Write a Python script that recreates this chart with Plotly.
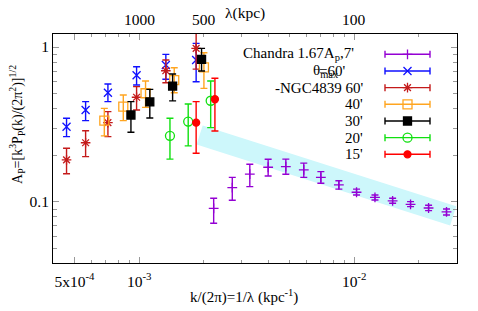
import numpy as np
import plotly.graph_objects as go

# ---------------- data ----------------
chandra_k = [2.22e-3, 2.71e-3, 3.27e-3, 3.98e-3, 4.81e-3, 5.83e-3, 7.0e-3, 8.49e-3,
             1.026e-2, 1.25e-2, 1.51e-2, 1.83e-2, 2.22e-2, 2.69e-2]
chandra_A = [0.091, 0.1236, 0.151, 0.1675, 0.169, 0.161, 0.144, 0.129,
             0.1155, 0.107, 0.1015, 0.0966, 0.0914, 0.0862]
chandra_hi = [0.1057, 0.144, 0.175, 0.1885, 0.189, 0.178, 0.157, 0.137,
              0.121, 0.111, 0.1057, 0.1005, 0.0952, 0.0901]
chandra_lo = [0.0729, 0.1026, 0.1256, 0.147, 0.151, 0.144, 0.132, 0.121,
              0.111, 0.103, 0.098, 0.0933, 0.0879, 0.0824]

t60_k = [4.59e-4, 5.63e-4, 7.15e-4, 9.72e-4, 1.33e-3, 1.84e-3]
t60_A = [0.306, 0.392, 0.507, 0.657, 0.765, 0.824]
t60_hi = [0.347, 0.444, 0.577, 0.746, 0.897, 1.056]
t60_lo = [0.264, 0.335, 0.444, 0.569, 0.619, 0.597]

ngc_k = [4.59e-4, 5.63e-4, 7.15e-4, 9.72e-4, 1.33e-3, 1.84e-3]
ngc_A = [0.187, 0.241, 0.325, 0.474, 0.703, 0.98]
ngc_hi = [0.222, 0.288, 0.383, 0.555, 0.824, 1.35]
ngc_lo = [0.152, 0.196, 0.264, 0.392, 0.588, 0.72]

t40_k = [6.88e-4, 8.43e-4, 1.07e-3, 1.455e-3, 2.0e-3]
t40_A = [0.335, 0.412, 0.503, 0.612, 0.74]
t40_hi = [0.402, 0.49, 0.604, 0.735, 0.919]
t40_lo = [0.267, 0.335, 0.408, 0.507, 0.541]

t30_k = [9.15e-4, 1.12e-3, 1.43e-3, 1.95e-3]
t30_A = [0.364, 0.442, 0.560, 0.833]
t30_hi = [0.444, 0.533, 0.67, 0.98]
t30_lo = [0.282, 0.348, 0.449, 0.70]

t20_k = [1.39e-3, 1.69e-3, 2.15e-3]
t20_A = [0.267, 0.33, 0.45]
t20_hi = [0.347, 0.429, 0.603]
t20_lo = [0.189, 0.23, 0.302]

t15_k = [1.84e-3, 2.25e-3]
t15_A = [0.325, 0.46]
t15_hi = [0.444, 0.628]
t15_lo = [0.206, 0.287]

band_k = [1.91e-3, 2.89e-2]
band_A = [0.2705, 0.0813]

xtick_vals = [5e-4, 1e-3, 1e-2]
xtick_text = ["5x10<sup>-4</sup>", "10<sup>-3</sup>", "10<sup>-2</sup>"]
ytick_vals = [0.1, 1]
ytick_text = ["0.1", "1"]
lambda_ticks = [1000, 500, 100]

x_minor = [4e-4, 6e-4, 7e-4, 8e-4, 9e-4] + [m * 1e-3 for m in range(2, 10)] + [2e-2, 3e-2]
y_minor = [0.05, 0.06, 0.07, 0.08, 0.09] + [m / 10 for m in range(2, 10)]

series = [
    ("Chandra 1.67A<sub>p</sub>,7'", chandra_k, chandra_A, chandra_hi, chandra_lo,
     "#9400D3", "cross-thin-open", 7),
    ("θ<sub>max</sub>=60'", t60_k, t60_A, t60_hi, t60_lo, "#1010ff", "x-thin-open", 8),
    ("-NGC4839 60'", ngc_k, ngc_A, ngc_hi, ngc_lo, "#c41a1a", "asterisk-open", 8),
    ("40'", t40_k, t40_A, t40_hi, t40_lo, "#ffa520", "square-open", 9),
    ("30'", t30_k, t30_A, t30_hi, t30_lo, "#000000", "square", 8),
    ("20'", t20_k, t20_A, t20_hi, t20_lo, "#10e010", "circle-open", 9),
    ("15'", t15_k, t15_A, t15_hi, t15_lo, "#ff0000", "circle", 7),
]

FONT = "Liberation Serif"
fig = go.Figure()

# shaded model band (thick line)
fig.add_trace(go.Scatter(x=band_k, y=band_A, mode="lines",
                         line=dict(color="#cdf7fb", width=20),
                         hoverinfo="skip", showlegend=False))

for name, k, A, hi, lo, col, sym, sz in series:
    up = [h - a for h, a in zip(hi, A)]
    dn = [a - l for a, l in zip(A, lo)]
    fig.add_trace(go.Scatter(
        x=k, y=A, mode="markers", name=name, showlegend=False,
        marker=dict(symbol=sym, size=sz, color=col, line=dict(color=col, width=1.3)),
        error_y=dict(type="data", symmetric=False, array=up, arrayminus=dn,
                     color=col, thickness=1.4, width=3.5)))

# manual gnuplot-style legend (pixel axes spanning the plot area)
row_y0, row_h = 54.3, 16.67
samp_c, samp_half = 407.5, 22.5
text_right = [356, 347, 365, 365, 365, 365, 365]
for i, (name, k, A, hi, lo, col, sym, sz) in enumerate(series):
    ry = row_y0 + i * row_h
    fig.add_trace(go.Scatter(
        x=[samp_c], y=[ry], mode="markers", xaxis="x3", yaxis="y3", showlegend=False,
        marker=dict(symbol=sym, size=sz, color=col, line=dict(color=col, width=1.3)),
        error_x=dict(type="data", array=[samp_half], color=col, thickness=1.4, width=3.5),
        hoverinfo="skip"))
    if i == 1:
        fig.add_annotation(x=text_right[i], y=ry, xref="x3", yref="y3", text="=60'",
                           showarrow=False, xanchor="right", yanchor="middle",
                           font=dict(family=FONT, size=15, color="black"))
        fig.add_annotation(x=311, y=ry, xref="x3", yref="y3", text="θ<sub>max</sub>",
                           showarrow=False, xanchor="left", yanchor="middle",
                           font=dict(family=FONT, size=15, color="black"))
    else:
        fig.add_annotation(x=text_right[i], y=ry, xref="x3", yref="y3", text=name,
                           showarrow=False, xanchor="right", yanchor="middle",
                           font=dict(family=FONT, size=15, color="black"))

# top lambda axis labels
for lam in lambda_ticks:
    fig.add_annotation(x=np.log10(1.0 / lam), y=1.063, xref="x", yref="paper",
                       text=str(lam), showarrow=False, xanchor="center", yanchor="middle",
                       font=dict(family=FONT, size=15.5, color="black"))
fig.add_annotation(x=0.475, y=1.09, xref="paper", yref="paper", text="λ(kpc)",
                   showarrow=False, xanchor="center", yanchor="middle",
                   font=dict(family=FONT, size=15.5, color="black"))

# axis titles
fig.add_annotation(x=0.474, y=-0.148, xref="paper", yref="paper",
                   text="k/(2π)=1/λ (kpc<sup>-1</sup>)", showarrow=False,
                   xanchor="center", yanchor="middle",
                   font=dict(family=FONT, size=15, color="black"))
fig.add_annotation(x=-0.089, y=0.603, xref="paper", yref="paper",
                   text="A<sub>P</sub>=[k<sup>3</sup>P<sub>P</sub>(k)/(2π<sup>2</sup>)]<sup>1/2</sup>",
                   showarrow=False, textangle=-90, xanchor="center", yanchor="middle",
                   font=dict(family=FONT, size=14, color="black"))

axis_common = dict(showgrid=False, zeroline=False, showline=True, linecolor="black",
                   linewidth=1, mirror="allticks", ticks="inside", tickcolor="#999999",
                   tickwidth=1, automargin=False,
                   tickfont=dict(family=FONT, size=15.5, color="black"))

# the page body adds an 8px offset, so the figure is 8px smaller with 8px less top/left margin
fig.update_layout(
    template="none",
    width=470, height=303,
    margin=dict(l=45, r=21, t=26, b=48, pad=0),
    paper_bgcolor="white", plot_bgcolor="white",
    showlegend=False,
    xaxis=dict(type="log", range=[np.log10(3.97e-4), np.log10(3.01e-2)],
               tickmode="array", tickvals=xtick_vals, ticktext=xtick_text, ticklen=6,
               ticklabelstandoff=4,
               minor=dict(tickvals=x_minor, ticks="inside", ticklen=3,
                          tickcolor="#999999", showgrid=False),
               **axis_common),
    yaxis=dict(type="log", range=[-1.394, 0.084],
               tickmode="array", tickvals=ytick_vals, ticktext=ytick_text, ticklen=6,
               minor=dict(tickvals=y_minor, ticks="inside", ticklen=4,
                          tickcolor="#999999", showgrid=False),
               **axis_common),
    xaxis3=dict(overlaying="x", anchor="y3", range=[53, 457], visible=False,
                automargin=False),
    yaxis3=dict(overlaying="y", anchor="x3", range=[263, 34], visible=False,
                automargin=False),
)

fig.write_html("out.html")
